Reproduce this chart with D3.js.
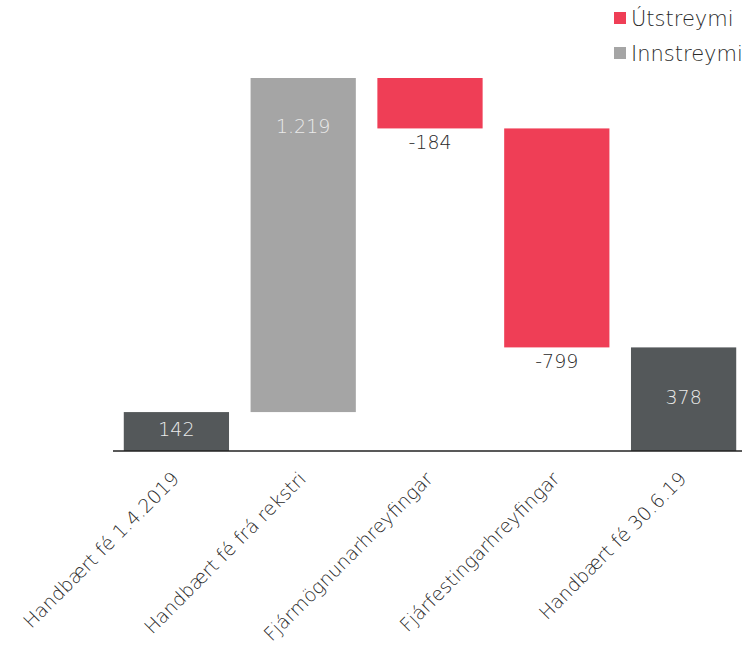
<!DOCTYPE html>
<html>
<head>
<meta charset="utf-8">
<script src="https://cdn.jsdelivr.net/npm/d3@7"></script>
<style>
  body { margin: 0; background: #fff; }
  text { font-family: "DejaVu Sans", sans-serif; font-weight: 200; }
</style>
</head>
<body>
<div id="chart"></div>
<script>
// data
let categories = ["Handbært fé 1.4.2019", "Handbært fé frá rekstri", "Fjármögnunarhreyfingar", "Fjárfestingarhreyfingar", "Handbært fé 30.6.19"];
let values = [142, 1219, -184, -799, 378];
let kinds = ["total", "delta", "delta", "delta", "total"];
let labels = ["142", "1.219", "-184", "-799", "378"];
let legendNames = ["Útstreymi", "Innstreymi"];

let width = 742, height = 657;
let colors = { total: "#54585a", up: "#a5a5a5", down: "#ef3e56" };
let font = "'DejaVu Sans', sans-serif";

// running totals for the waterfall
let running = 0;
let bars = categories.map((c, i) => {
  let v = values[i], y0, y1, type;
  if (kinds[i] === "total") { y0 = 0; y1 = v; running = v; type = "total"; }
  else { y0 = running; y1 = running + v; running = y1; type = v >= 0 ? "up" : "down"; }
  return { cat: c, v: v, lo: Math.min(y0, y1), hi: Math.max(y0, y1), type: type, label: labels[i] };
});

let svg = d3.select("#chart").append("svg")
  .attr("width", width)
  .attr("height", height);

let x = d3.scaleBand()
  .domain(categories)
  .range([113, 747])
  .paddingInner(0.17)
  .paddingOuter(0.085);

let y = d3.scaleLinear()
  .domain([0, d3.max(bars, d => d.hi)])
  .range([451, 78]);

// bars
svg.selectAll("rect.bar")
  .data(bars)
  .join("rect")
  .attr("class", "bar")
  .attr("x", d => x(d.cat))
  .attr("width", x.bandwidth())
  .attr("y", d => y(d.hi))
  .attr("height", d => y(d.lo) - y(d.hi))
  .attr("fill", d => colors[d.type]);

// value labels
svg.selectAll("text.val")
  .data(bars)
  .join("text")
  .attr("class", "val")
  .attr("x", d => x(d.cat) + x.bandwidth() / 2)
  .attr("y", d => {
    if (d.type === "down") return y(d.lo) + 14;
    if (d.type === "up") return y(d.hi) + 48;
    return (y(d.lo) + y(d.hi)) / 2 - 2;
  })
  .attr("dy", "0.35em")
  .attr("text-anchor", "middle")
  .attr("font-size", 19)
  .attr("fill", d => d.type === "down" ? "#2a2a2a" : "#eaeaea")
  .text(d => d.label);

// x axis
let xAxis = d3.axisBottom(x).tickSize(0).tickPadding(0);
let gx = svg.append("g")
  .attr("transform", "translate(0," + y(0) + ")")
  .call(xAxis);
gx.select(".domain").attr("stroke", "#222").attr("stroke-width", 1.5)
  .attr("d", "M113,0H742");
gx.selectAll(".tick text")
  .attr("font-family", font)
  .attr("font-weight", 200)
  .attr("font-size", 19)
  .attr("fill", "#2a2a2a")
  .attr("text-anchor", "end")
  .attr("dy", null)
  .attr("y", 0)
  .attr("transform", "translate(4,29) rotate(-45)");

// legend
let legend = svg.append("g").selectAll("g")
  .data(legendNames)
  .join("g")
  .attr("transform", (d, i) => "translate(614," + (12 + i * 35) + ")");
legend.append("rect")
  .attr("width", 12).attr("height", 12)
  .attr("fill", (d, i) => i === 0 ? colors.down : colors.up);
legend.append("text")
  .attr("x", 17).attr("y", 6).attr("dy", "0.36em")
  .attr("font-size", 21)
  .attr("fill", "#2a2a2a")
  .text(d => d);
</script>
</body>
</html>
